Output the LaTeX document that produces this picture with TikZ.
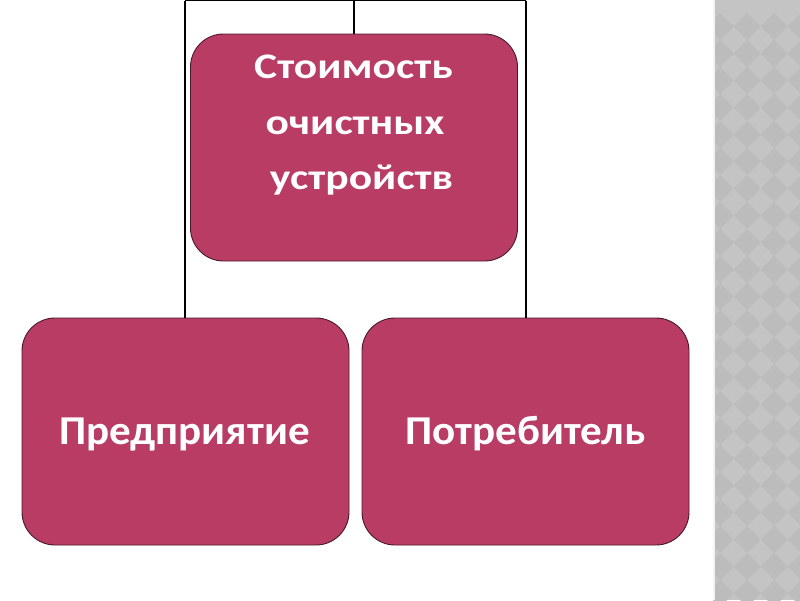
\documentclass[tikz,border=0pt]{standalone}
\usepackage{fontspec}
\setmainfont{Carlito}
\newfontfamily\topfont{Carlito}[FakeStretch=1.21]
\newfontfamily\botfont{Carlito}[FakeStretch=1.05]
\definecolor{boxfill}{HTML}{B83C64}
\definecolor{boxline}{HTML}{4A1A2A}
\definecolor{stripA}{HTML}{C4C4C4}
\definecolor{stripB}{HTML}{BCBCBC}
\tikzset{
  box/.style={draw=boxline, line width=0.9pt, fill=boxfill, rounded corners=33pt,
    minimum width=327pt, minimum height=227pt, inner sep=0pt},
  toplabel/.style={text=white, anchor=base, inner sep=0pt, font=\topfont\fontsize{36}{40}\bfseries},
  botlabel/.style={text=white, anchor=base, inner sep=0pt, font=\botfont\fontsize{41}{48}\bfseries},
  conn/.style={draw=black, line width=1.3pt}
}
\begin{document}
\begin{tikzpicture}[x=1pt,y=-1pt]
\useasboundingbox (0,0) rectangle (800,600);
\fill[white] (0,0) rectangle (800,600);
% decorative strip
\begin{scope}
\clip (713,0) rectangle (800,600);
\fill[stripA] (713,0) rectangle (800,600);
\foreach \i in {0,...,4} {
  \foreach \j in {0,...,23} {
    \fill[stripB] ({720+27*\i},{13+27*\j}) -- ++(13.5,13.5) -- ++(-13.5,13.5) -- ++(-13.5,-13.5) -- cycle;
  }
}
\end{scope}
\fill[white!80!stripA] (713,0) rectangle (715,600);
% nodes
\node[box] (top) at (354,147.5) {};
\node[box] (left) at (185.5,431.5) {};
\node[box] (right) at (525.5,431.5) {};
\node[toplabel] (t1) at (353.5,78) {Стоимость};
\node[toplabel] (t2) at (355,134) {очистных};
\node[toplabel] (t3) at (361.5,189) {устройств};
\node[botlabel] (lefttext) at (184.5,444) {Предприятие};
\node[botlabel] (righttext) at (525.5,444) {Потребитель};
% connectors
\coordinate (c1) at (185,0.5);
\coordinate (c2) at (354,0.5);
\coordinate (c3) at (526,0.5);
\draw[conn] (c1) -- (c3);
\draw[conn] (c1) -- (left.north -| c1);
\draw[conn] (c3) -- (right.north -| c3);
\draw[conn] (c2) -- (top.north);
\end{tikzpicture}
\end{document}
